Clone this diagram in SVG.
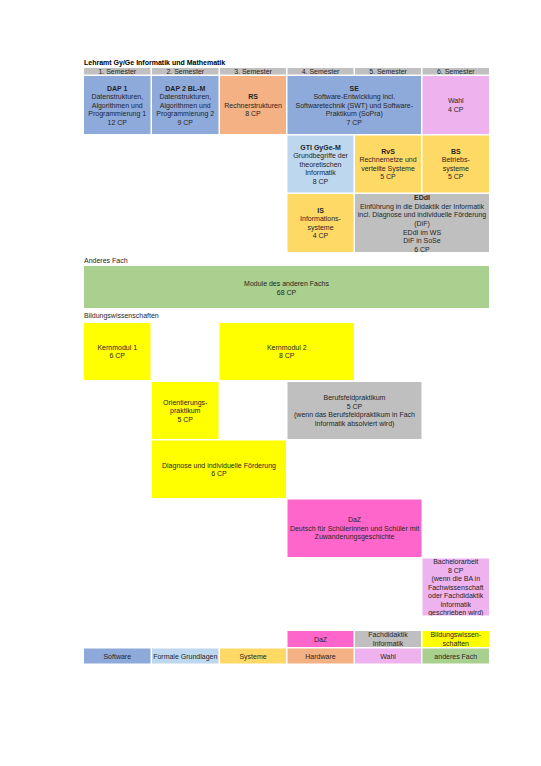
<svg xmlns="http://www.w3.org/2000/svg" width="541" height="766" viewBox="0 0 541 766">
<style>
text{font-family:"Liberation Sans",Arial,sans-serif;font-size:7px;fill:#262626;text-anchor:middle}
.l{text-anchor:start}
.b{font-weight:bold}
.t{fill:#000}
.hd{fill:#c0c0c0}
.sw{fill:#8eaadb}
.fg{fill:#bdd7ee}
.sy{fill:#ffd966}
.hw{fill:#f4b183}
.wa{fill:#eeb3ee}
.af{fill:#a9d08e}
.fd{fill:#bfbfbf}
.bw{fill:#ffff00}
.dz{fill:#ff66cc}
</style>
<defs>
<clipPath id="cEDdI"><rect x="355" y="194" width="134" height="58"/></clipPath>
<clipPath id="cBA"><rect x="422.5" y="558.5" width="66.5" height="57"/></clipPath>
</defs>
<rect width="541" height="766" fill="#fff"/>
<text class="l b t" x="84" y="64.5">Lehramt Gy/Ge Informatik und Mathematik</text>
<g id="header">
<rect class="hd" x="84" y="68" width="66.5" height="6.5"/><text x="117.25" y="73.8">1. Semester</text>
<rect class="hd" x="152" y="68" width="66.5" height="6.5"/><text x="185.25" y="73.8">2. Semester</text>
<rect class="hd" x="220" y="68" width="66" height="6.5"/><text x="253" y="73.8">3. Semester</text>
<rect class="hd" x="287.5" y="68" width="66" height="6.5"/><text x="320.5" y="73.8">4. Semester</text>
<rect class="hd" x="355" y="68" width="66" height="6.5"/><text x="388" y="73.8">5. Semester</text>
<rect class="hd" x="422.5" y="68" width="66.5" height="6.5"/><text x="455.75" y="73.8">6. Semester</text>
</g>
<g id="DAP1">
<rect class="sw" x="84" y="76" width="66.5" height="58"/>
<text x="117.25" y="90.5" class="b">DAP 1</text><text x="117.25" y="99">Datenstrukturen,</text><text x="117.25" y="107.5">Algorithmen und</text><text x="117.25" y="116">Programmierung 1</text><text x="117.25" y="124.5">12 CP</text>
</g>
<g id="DAP2">
<rect class="sw" x="152" y="76" width="66.5" height="58"/>
<text x="185.25" y="90.5" class="b">DAP 2 BL-M</text><text x="185.25" y="99">Datenstrukturen,</text><text x="185.25" y="107.5">Algorithmen und</text><text x="185.25" y="116">Programmierung 2</text><text x="185.25" y="124.5">9 CP</text>
</g>
<g id="RS">
<rect class="hw" x="220" y="76" width="66" height="58"/>
<text x="253" y="99" class="b">RS</text><text x="253" y="107.5">Rechnerstrukturen</text><text x="253" y="116">8 CP</text>
</g>
<g id="SE">
<rect class="sw" x="287.5" y="76" width="133.5" height="58"/>
<text x="354.25" y="90.5" class="b">SE</text><text x="354.25" y="99">Software-Entwicklung incl.</text><text x="354.25" y="107.5">Softwaretechnik (SWT) und Software-</text><text x="354.25" y="116">Praktikum (SoPra)</text><text x="354.25" y="124.5">7 CP</text>
</g>
<g id="Wahl">
<rect class="wa" x="422.5" y="76" width="66.5" height="58"/>
<text x="455.75" y="103.25">Wahl</text><text x="455.75" y="111.75">4 CP</text>
</g>
<g id="GTI">
<rect class="fg" x="287.5" y="135.5" width="66" height="57"/>
<text x="320.5" y="149.5" class="b">GTI GyGe-M</text><text x="320.5" y="158">Grundbegriffe der</text><text x="320.5" y="166.5">theoretischen</text><text x="320.5" y="175">Informatik</text><text x="320.5" y="183.5">8 CP</text>
</g>
<g id="RvS">
<rect class="sy" x="355" y="135.5" width="66" height="57"/>
<text x="388" y="153.75" class="b">RvS</text><text x="388" y="162.25">Rechnernetze und</text><text x="388" y="170.75">verteilte Systeme</text><text x="388" y="179.25">5 CP</text>
</g>
<g id="BS">
<rect class="sy" x="422.5" y="135.5" width="66.5" height="57"/>
<text x="455.75" y="153.75" class="b">BS</text><text x="455.75" y="162.25">Betriebs-</text><text x="455.75" y="170.75">systeme</text><text x="455.75" y="179.25">5 CP</text>
</g>
<g id="IS">
<rect class="sy" x="287.5" y="194" width="66" height="58"/>
<text x="320.5" y="212.75" class="b">IS</text><text x="320.5" y="221.25">Informations-</text><text x="320.5" y="229.75">systeme</text><text x="320.5" y="238.25">4 CP</text>
</g>
<g id="EDdI">
<rect class="fd" x="355" y="194" width="134" height="58"/>
<g clip-path="url(#cEDdI)">
<text x="422" y="199.9" class="b">EDdI</text><text x="422" y="208.6">Einführung in die Didaktik der Informatik</text><text x="422" y="217.3">incl. Diagnose und individuelle Förderung</text><text x="422" y="226">(DiF)</text><text x="422" y="234.7">EDdI im WS</text><text x="422" y="243.4">DiF in SoSe</text><text x="422" y="252.1">6 CP</text>
</g>
</g>
<text class="l" x="84" y="262.5">Anderes Fach</text>
<g id="AnderesFach">
<rect class="af" x="84" y="266" width="405" height="42"/>
<text x="286.5" y="286.2">Module des anderen Fachs</text><text x="286.5" y="294.8">68 CP</text>
</g>
<text class="l" x="84" y="318">Bildungswissenschaften</text>
<g id="Kernmodul1">
<rect class="bw" x="84" y="323" width="66.5" height="57"/>
<text x="117.25" y="349.75">Kernmodul 1</text><text x="117.25" y="358.25">6 CP</text>
</g>
<g id="Kernmodul2">
<rect class="bw" x="219.5" y="323" width="134.5" height="57"/>
<text x="286.75" y="349.75">Kernmodul 2</text><text x="286.75" y="358.25">8 CP</text>
</g>
<g id="Orientierungspraktikum">
<rect class="bw" x="152" y="382" width="66.5" height="57"/>
<text x="185.25" y="404.5">Orientierungs-</text><text x="185.25" y="413">praktikum</text><text x="185.25" y="421.5">5 CP</text>
</g>
<g id="Berufsfeldpraktikum">
<rect class="fd" x="287.5" y="382" width="134" height="57"/>
<text x="354.5" y="400.25">Berufsfeldpraktikum</text><text x="354.5" y="408.75">5 CP</text><text x="354.5" y="417.25">(wenn das Berufsfeldpraktikum in Fach</text><text x="354.5" y="425.75">Informatik absolviert wird)</text>
</g>
<g id="DiF">
<rect class="bw" x="152" y="440.5" width="134" height="57.5"/>
<text x="219" y="467.5">Diagnose und individuelle Förderung</text><text x="219" y="476">6 CP</text>
</g>
<g id="DaZ">
<rect class="dz" x="287.5" y="499.5" width="134" height="57.5"/>
<text x="354.5" y="522.25">DaZ</text><text x="354.5" y="530.75">Deutsch für Schülerinnen und Schüler mit</text><text x="354.5" y="539.25">Zuwanderungsgeschichte</text>
</g>
<g id="Bachelorarbeit">
<rect class="wa" x="422.5" y="558.5" width="66.5" height="57"/>
<g clip-path="url(#cBA)">
<text x="455.75" y="564">Bachelorarbeit</text><text x="455.75" y="572.5">8 CP</text><text x="455.75" y="581">(wenn die BA in</text><text x="455.75" y="589.5">Fachwissenschaft</text><text x="455.75" y="598">oder Fachdidaktik</text><text x="455.75" y="606.5">Informatik</text><text x="455.75" y="615">geschrieben wird)</text>
</g>
</g>
<g id="legend">
<rect class="dz" x="287.5" y="631" width="66" height="16"/><text x="320.5" y="641.8">DaZ</text>
<rect class="fd" x="355" y="631" width="66" height="16"/><text x="388" y="636.8">Fachdidaktik</text><text x="388" y="645.6">Informatik</text>
<rect class="bw" x="422.5" y="631" width="66.5" height="16"/><text x="455.75" y="636.8">Bildungswissen-</text><text x="455.75" y="645.6">schaften</text>
<rect class="sw" x="84" y="648.5" width="66.5" height="15"/><text x="117.25" y="658.6">Software</text>
<rect class="fg" x="152" y="648.5" width="66.5" height="15"/><text x="185.25" y="658.6">Formale Grundlagen</text>
<rect class="sy" x="220" y="648.5" width="66" height="15"/><text x="253" y="658.6">Systeme</text>
<rect class="hw" x="287.5" y="648.5" width="66" height="15"/><text x="320.5" y="658.6">Hardware</text>
<rect class="wa" x="355" y="648.5" width="66" height="15"/><text x="388" y="658.6">Wahl</text>
<rect class="af" x="422.5" y="648.5" width="66.5" height="15"/><text x="455.75" y="658.6">anderes Fach</text>
</g>
<g id="connectors"/>
</svg>
